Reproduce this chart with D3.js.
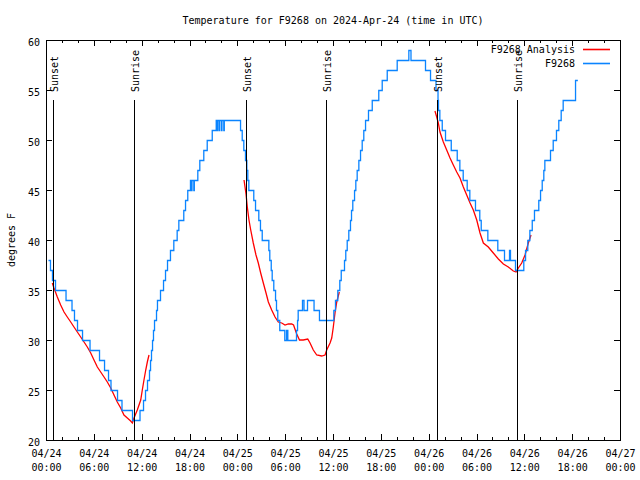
<!DOCTYPE html>
<html><head><meta charset="utf-8">
<script src="https://cdn.jsdelivr.net/npm/d3@7"></script>
<style>
body{margin:0;background:#fff}
svg{display:block;background:#fff}
text{font-family:"DejaVu Sans Mono",monospace;font-size:10px;fill:#000}
</style>
</head><body><svg id="c" width="640" height="480"></svg>
<script>
const titleText = "Temperature for F9268 on 2024-Apr-24 (time in UTC)";
const yLabelText = "degrees F";
const seriesNames = ["F9268 Analysis", "F9268"];
const seriesColors = ["#ff0000", "#0a84ff"];
const startTime = "2024-04-24T00:00:00Z";
const endTime = "2024-04-27T00:00:00Z";
const yTicks = [20, 25, 30, 35, 40, 45, 50, 55, 60];
const xTickHours = [0, 6, 12, 18, 24, 30, 36, 42, 48, 54, 60, 66, 72];
const sunLabels = ["Sunset", "Sunrise", "Sunset", "Sunrise", "Sunset", "Sunrise"];
const sunHours = [0.92, 11.04, 25.05, 35.12, 49.09, 59.12];

// observations (hours since 2024-04-24 00:00 UTC, degrees F)
const obsHours = [0.25,0.50,0.75,1.13,2.45,3.20,3.51,3.89,4.52,5.46,6.65,7.28,7.78,8.09,8.91,9.47,10.79,
  11.73,12.17,12.42,12.67,12.92,13.05,13.17,13.30,13.42,13.55,13.80,13.92,14.30,14.68,14.93,15.18,15.55,15.97,16.39,16.60,17.22,17.44,17.72,18.06,18.19,18.25,18.48,18.54,18.98,19.23,19.73,20.16,20.79,21.29,21.41,21.47,21.66,21.72,21.95,22.01,22.24,22.30,
  24.34,24.55,24.75,24.96,25.13,25.25,25.38,26.00,26.22,26.63,26.84,27.06,27.89,28.01,28.19,28.31,28.51,28.73,28.85,29.01,29.26,29.89,30.11,30.27,31.36,31.49,31.57,32.11,32.30,32.74,33.56,34.24,
  36.04,36.25,36.54,36.79,36.97,37.38,37.54,37.72,37.92,38.13,38.26,38.42,38.64,38.80,38.97,39.18,39.39,39.60,39.80,40.02,40.39,40.86,41.68,42.11,42.74,43.99,45.45,45.72,
  47.54,48.17,48.86,49.11,49.17,49.34,49.64,50.05,50.77,51.52,51.85,52.27,52.77,53.10,53.81,54.35,54.53,55.36,56.61,57.45,58.08,58.20,58.83,
  59.87,60.09,60.37,60.63,60.93,61.21,61.75,61.97,62.18,62.38,62.51,63.22,63.56,63.97,64.26,64.56,64.81,66.36,66.65];
const obsTemps = [38,37,36,35,34,33,32,31,30,29,28,27,26,25,24,23,22,
  23,24,25,26,27,28,29,30,31,32,33,34,35,36,37,38,39,40,41,42,43,44,45,46,45,46,45,46,47,48,49,50,51,52,51,52,51,52,51,52,51,52,
  51,50,49,48,47,46,45,44,43,42,41,40,39,38,37,36,35,34,33,32,31,30,31,30,31,32,33,34,33,34,33,32,
  33,34,35,36,37,38,39,40,41,42,43,44,45,46,47,48,49,50,51,52,53,54,55,56,57,58,59,58,
  57,56,55,54,53,52,51,50,49,48,47,46,45,44,43,42,41,40,39,38,39,38,37,
  38,39,40,41,42,43,44,45,46,47,48,49,50,51,52,53,54,56,56];

// analysis, three night segments
const ana1Hours = [0.79,1.00,1.42,1.84,2.26,2.67,3.10,3.51,3.93,4.35,4.77,5.18,5.61,6.02,6.44,6.86,7.28,7.69,8.12,8.53,8.94,9.37,9.78,10.20,10.62,10.83,11.04,11.45,11.88,12.08,12.29,12.51,12.71,12.92];
const ana1Temps = [35.7,35.2,34.3,33.5,32.8,32.3,31.8,31.3,30.8,30.3,29.8,29.3,28.7,28.0,27.3,26.8,26.3,25.8,25.2,24.5,23.8,23.2,22.5,22.2,21.9,21.7,22.2,23.0,24.0,25.0,26.0,27.0,27.8,28.5];
const ana2Hours = [24.84,25.09,25.25,25.46,25.68,26.00,26.34,26.63,26.93,27.26,27.60,27.89,28.31,28.73,29.14,29.57,29.98,30.39,30.82,31.05,31.45,31.80,32.27,32.83,33.12,33.53,33.96,34.58,35.00,35.21,35.63,35.84,36.04,36.25,36.47,36.79];
const ana2Temps = [46.0,44.6,43.3,42.0,41.0,39.7,38.5,37.7,36.7,35.7,34.7,33.8,33.0,32.3,31.8,31.7,31.5,31.6,31.6,31.5,30.6,30.0,30.0,30.1,29.7,29.0,28.5,28.4,28.5,29.0,29.7,30.2,31.3,32.7,33.8,34.8];
const ana3Hours = [48.79,49.01,49.21,49.42,49.84,50.26,50.68,51.09,51.52,51.93,52.35,52.77,53.19,53.60,54.03,54.44,54.86,55.48,56.11,56.74,57.37,57.99,58.62,58.96,59.25,59.67,60.09,60.50,60.84];
const ana3Temps = [52.9,52.3,51.7,50.8,49.8,49.0,48.2,47.5,46.8,46.2,45.3,44.5,43.7,43.0,42.0,40.7,39.7,39.3,38.7,38.1,37.6,37.3,36.9,36.8,37.2,37.7,38.5,39.7,40.5];

const svg = d3.select("#c");
const L = 46, R = 620, T = 40, B = 440;
const t0 = Date.parse(startTime);
const toDate = h => new Date(t0 + h * 3600000);
const x = d3.scaleUtc().domain([new Date(startTime), new Date(endTime)]).range([L, R]);
const y = d3.scaleLinear().domain([20, 60]).range([B, T]);

const zip = (hs, ts) => hs.map((h, i) => ({t: toDate(h), v: ts[i]}));
const obs = zip(obsHours, obsTemps);
const anaSegs = [zip(ana1Hours, ana1Temps), zip(ana2Hours, ana2Temps), zip(ana3Hours, ana3Temps)];

const fmtDay = d3.utcFormat("%m/%d"), fmtHour = d3.utcFormat("%H:%M");
const majorTicks = xTickHours.map(toDate);
const minorTicks = d3.utcHour.every(2).range(new Date(startTime), new Date(endTime));

function styleAxis(g) {
  g.select(".domain").remove();
  g.attr("font-family", "DejaVu Sans Mono, monospace").attr("font-size", 10);
  g.selectAll("line").attr("stroke", "#000").attr("shape-rendering", "crispEdges");
  g.selectAll("text").attr("fill", "#000");
}

// bottom minor + major ticks with labels
svg.append("g").attr("transform", `translate(0,${B})`)
  .call(d3.axisBottom(x).tickValues(minorTicks).tickSizeInner(-3).tickSizeOuter(0).tickFormat(""))
  .call(styleAxis);
const bx = svg.append("g").attr("transform", `translate(0,${B})`)
  .call(d3.axisBottom(x).tickValues(majorTicks).tickSizeInner(-6).tickSizeOuter(0).tickPadding(0).tickFormat(fmtDay))
  .call(styleAxis);
bx.selectAll(".tick text").each(function(d) {
  const t = d3.select(this).text(null).attr("dy", null).attr("y", 0);
  t.append("tspan").attr("x", 0).attr("y", 17).text(fmtDay(d));
  t.append("tspan").attr("x", 0).attr("y", 31).text(fmtHour(d));
});
// top mirror ticks
svg.append("g").attr("transform", `translate(0,${T})`)
  .call(d3.axisTop(x).tickValues(minorTicks).tickSizeInner(-3).tickSizeOuter(0).tickFormat(""))
  .call(styleAxis);
svg.append("g").attr("transform", `translate(0,${T})`)
  .call(d3.axisTop(x).tickValues(majorTicks).tickSizeInner(-6).tickSizeOuter(0).tickFormat(""))
  .call(styleAxis);
// left axis
svg.append("g").attr("transform", `translate(${L},0)`)
  .call(d3.axisLeft(y).tickValues(yTicks).tickSizeInner(-6).tickSizeOuter(0).tickPadding(6).tickFormat(d3.format("d")))
  .call(styleAxis)
  .selectAll(".tick text").attr("dy", "0.5em");
// right mirror
svg.append("g").attr("transform", `translate(${R},0)`)
  .call(d3.axisRight(y).tickValues(yTicks).tickSizeInner(-6).tickSizeOuter(0).tickFormat(""))
  .call(styleAxis);

// frame
svg.append("rect").attr("x", L + 0.5).attr("y", T + 0.5).attr("width", R - L).attr("height", B - T)
  .attr("fill", "none").attr("stroke", "#000").attr("stroke-width", 1).attr("shape-rendering", "crispEdges");

// analysis lines
const lineA = d3.line().x(d => x(d.t)).y(d => y(d.v));
svg.append("g").selectAll("path").data(anaSegs).join("path")
  .attr("d", lineA).attr("fill", "none").attr("stroke", seriesColors[0]).attr("stroke-width", 1.3);
// observations
const lineO = d3.line().x(d => x(d.t)).y(d => y(d.v)).curve(d3.curveStepAfter);
svg.append("path").datum(obs).attr("d", lineO).attr("fill", "none")
  .attr("transform", "translate(0.5,0.5)")
  .attr("stroke", seriesColors[1]).attr("stroke-width", 1.3);

// sunrise / sunset markers
const sun = svg.append("g");
sunHours.forEach((h, i) => {
  const px = Math.round(x(toDate(h))) + 0.5;
  sun.append("line").attr("x1", px).attr("x2", px).attr("y1", 100).attr("y2", B)
    .attr("stroke", "#000").attr("stroke-width", 1).attr("shape-rendering", "crispEdges");
  sun.append("text").attr("transform", `translate(${px + 4},92) rotate(-90)`)
    .attr("text-anchor", "start").text(sunLabels[i]);
});

// title and y label
svg.append("text").attr("x", 333).attr("y", 24).attr("text-anchor", "middle").text(titleText);
svg.append("text").attr("transform", "translate(15,240) rotate(-90)").attr("text-anchor", "middle").text(yLabelText);

// legend
const leg = svg.append("g");
seriesNames.forEach((n, i) => {
  const ly = 49 + i * 14;
  leg.append("text").attr("x", 575).attr("y", ly + 4).attr("text-anchor", "end").text(n);
  leg.append("line").attr("x1", 583).attr("x2", 610).attr("y1", ly + 0.5).attr("y2", ly + 0.5)
    .attr("stroke", seriesColors[i]).attr("stroke-width", 1.6);
});
</script>
</body></html>
